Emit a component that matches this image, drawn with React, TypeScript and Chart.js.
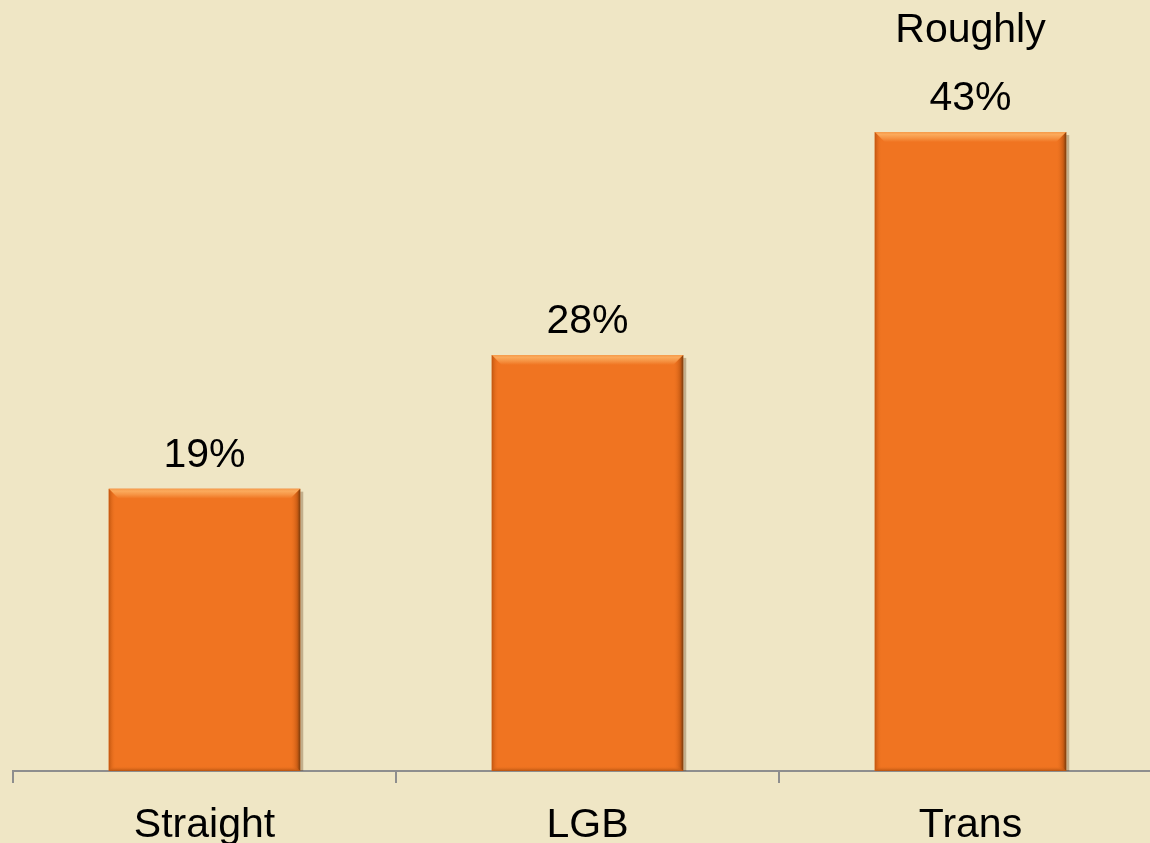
import React, { useEffect, useRef } from "react";
import { Chart, registerables } from "chart.js";

Chart.register(...registerables);

const categories = ["Straight", "LGB", "Trans"];
const values = [19, 28, 43];
const valueLabels = [["19%"], ["28%"], ["Roughly", "43%"]];

const BG = "#EFE6C5";
const BAR = "#F07421";
const FONT = "'Liberation Sans', Arial, sans-serif";

const bevelPlugin = {
  id: "bevel",
  afterDatasetsDraw(chart: any) {
    const ctx = chart.ctx;
    const meta = chart.getDatasetMeta(0);
    meta.data.forEach((bar: any) => {
      const w = bar.width;
      const L = bar.x - w / 2;
      const R = bar.x + w / 2;
      const T = bar.y;
      const B = bar.base;
      const d = 10;
      ctx.save();
      // outer shadow right
      ctx.fillStyle = "rgba(90,50,10,0.3)";
      ctx.fillRect(R, T + 3, 3, B - T - 3);
      // top bevel
      let g = ctx.createLinearGradient(0, T, 0, T + d);
      g.addColorStop(0, "#F69A4A");
      g.addColorStop(0.25, "#FBAA5C");
      g.addColorStop(0.6, "#F69444");
      g.addColorStop(1, BAR);
      ctx.fillStyle = g;
      ctx.beginPath();
      ctx.moveTo(L, T);
      ctx.lineTo(R, T);
      ctx.lineTo(R - d, T + d);
      ctx.lineTo(L + d, T + d);
      ctx.closePath();
      ctx.fill();
      // left bevel
      g = ctx.createLinearGradient(L, 0, L + 7, 0);
      g.addColorStop(0, "#C0550F");
      g.addColorStop(1, "rgba(240,116,33,0)");
      ctx.fillStyle = g;
      ctx.beginPath();
      ctx.moveTo(L, T);
      ctx.lineTo(L + 7, T + 7);
      ctx.lineTo(L + 7, B - 3);
      ctx.lineTo(L, B);
      ctx.closePath();
      ctx.fill();
      // right bevel
      g = ctx.createLinearGradient(R - 10, 0, R, 0);
      g.addColorStop(0, "rgba(240,116,33,0)");
      g.addColorStop(0.7, "#C95C14");
      g.addColorStop(1, "#7A3C0C");
      ctx.fillStyle = g;
      ctx.beginPath();
      ctx.moveTo(R, T);
      ctx.lineTo(R - 10, T + 10);
      ctx.lineTo(R - 10, B - 4);
      ctx.lineTo(R, B);
      ctx.closePath();
      ctx.fill();
      // bottom bevel
      g = ctx.createLinearGradient(0, B - 5, 0, B);
      g.addColorStop(0, "rgba(240,116,33,0)");
      g.addColorStop(1, "#B4520F");
      ctx.fillStyle = g;
      ctx.beginPath();
      ctx.moveTo(L, B);
      ctx.lineTo(L + 5, B - 5);
      ctx.lineTo(R - 5, B - 5);
      ctx.lineTo(R, B);
      ctx.closePath();
      ctx.fill();
      ctx.restore();
    });
  },
};

const labelPlugin = {
  id: "valueLabels",
  afterDatasetsDraw(chart: any) {
    const ctx = chart.ctx;
    const meta = chart.getDatasetMeta(0);
    ctx.save();
    ctx.font = `41px ${FONT}`;
    ctx.fillStyle = "#000000";
    ctx.textAlign = "center";
    ctx.textBaseline = "alphabetic";
    meta.data.forEach((bar: any, i: number) => {
      const lines = valueLabels[i];
      const baseY = bar.y - 22;
      lines.forEach((line: string, j: number) => {
        const y = baseY - (lines.length - 1 - j) * 68;
        ctx.fillText(line, bar.x, y);
      });
    });
    ctx.restore();
  },
};

export default function App() {
  const ref = useRef<HTMLCanvasElement>(null);
  useEffect(() => {
    if (!ref.current) return;
    const chart = new Chart(ref.current, {
      type: "bar",
      data: {
        labels: categories,
        datasets: [
          {
            data: values,
            backgroundColor: BAR,
            borderWidth: 0,
            categoryPercentage: 1,
            barPercentage: 0.5,
          },
        ],
      },
      options: {
        animation: false,
        responsive: false,
        maintainAspectRatio: false,
        layout: { padding: { left: 13, right: 2, top: 28, bottom: 0 } },
        plugins: {
          legend: { display: false },
          tooltip: { enabled: false },
        },
        scales: {
          x: {
            afterFit: (scale: any) => {
              scale.height = 72;
            },
            grid: {
              display: true,
              offset: true,
              drawOnChartArea: false,
              drawTicks: true,
              tickLength: 12,
              color: "#8E8E8E",
              lineWidth: 2,
            },
            border: { display: true, color: "#8E8E8E", width: 2 },
            ticks: {
              color: "#000000",
              padding: 18,
              font: { family: FONT, size: 41 },
            },
          },
          y: {
            display: false,
            min: 0,
            max: 50,
          },
        },
      },
      plugins: [bevelPlugin, labelPlugin],
    });
    return () => chart.destroy();
  }, []);

  return (
    <div
      style={{
        position: "fixed",
        left: 0,
        top: 0,
        width: 1150,
        height: 843,
        overflow: "hidden",
        background: BG,
      }}
    >
      <canvas ref={ref} width={1164} height={843} style={{ display: "block" }} />
    </div>
  );
}
